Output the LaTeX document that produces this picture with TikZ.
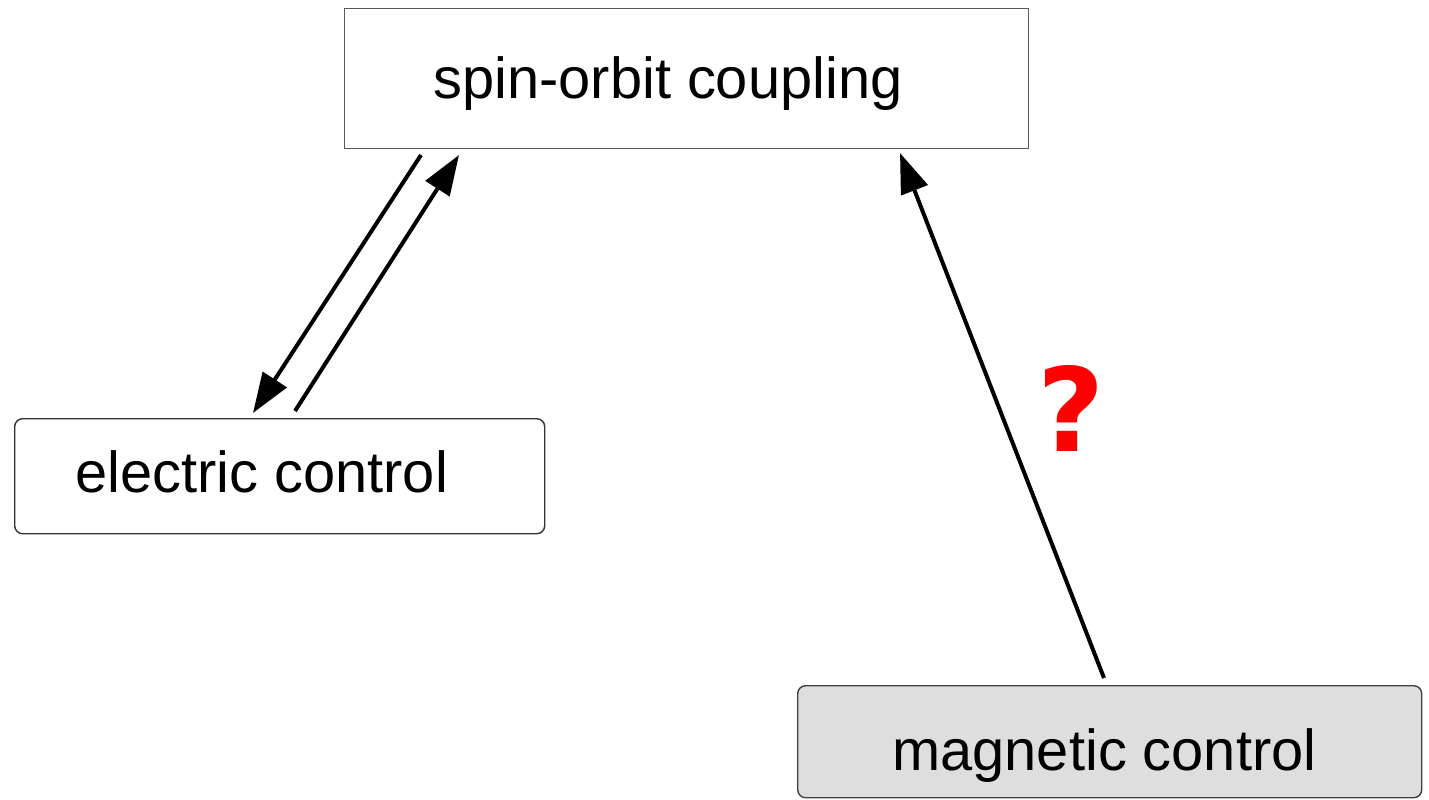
\documentclass[tikz,border=0pt]{standalone}
\usepackage{fontspec}
\setmainfont{Liberation Sans}
\newfontfamily\qfont{DejaVu Sans}
\usetikzlibrary{arrows.meta}
\begin{document}
\begin{tikzpicture}[x=0.5pt,y=-0.5pt,
  boxbase/.style={draw, line width=0.7pt, inner sep=0pt, anchor=north west},
  label/.style={inner sep=0pt, anchor=base west, font=\fontsize{28.9}{34}\selectfont},
  conn/.style={line width=2pt, -{Triangle[length=20pt,width=14pt]}}
]
\useasboundingbox (0,0) rectangle (1429,799);
% boxes
\node[boxbase, draw=black!65, minimum width=342pt, minimum height=70pt] (so) at (344,8) {};
\node[boxbase, draw=black!80, rounded corners=4pt, minimum width=265pt, minimum height=57.5pt] (ec) at (14,418) {};
\node[boxbase, draw=black!75, fill=black!13, rounded corners=4pt, minimum width=312pt, minimum height=56pt] (mc) at (797,685) {};
% labels
\node[label] (sot) at (433,98) {spin-orbit coupling};
\node[label] (ect) at (75,492) {electric control};
\node[label] (mct) at (892,770) {magnetic control};
\node[inner sep=0pt, anchor=base, text=red, font=\qfont\bfseries\fontsize{58}{70}\selectfont] (q) at (1071,451) {?};
% connector end points
\coordinate (a1s) at (421,155);
\coordinate (a1e) at (253,413);
\coordinate (a2s) at (295,411);
\coordinate (a2e) at (459,155);
\coordinate (a3s) at (1104,678);
\coordinate (a3e) at (900,153);
\draw[conn] (a1s) -- (a1e);
\draw[conn] (a2s) -- (a2e);
\draw[conn] (a3s) -- (a3e);
\end{tikzpicture}
\end{document}
